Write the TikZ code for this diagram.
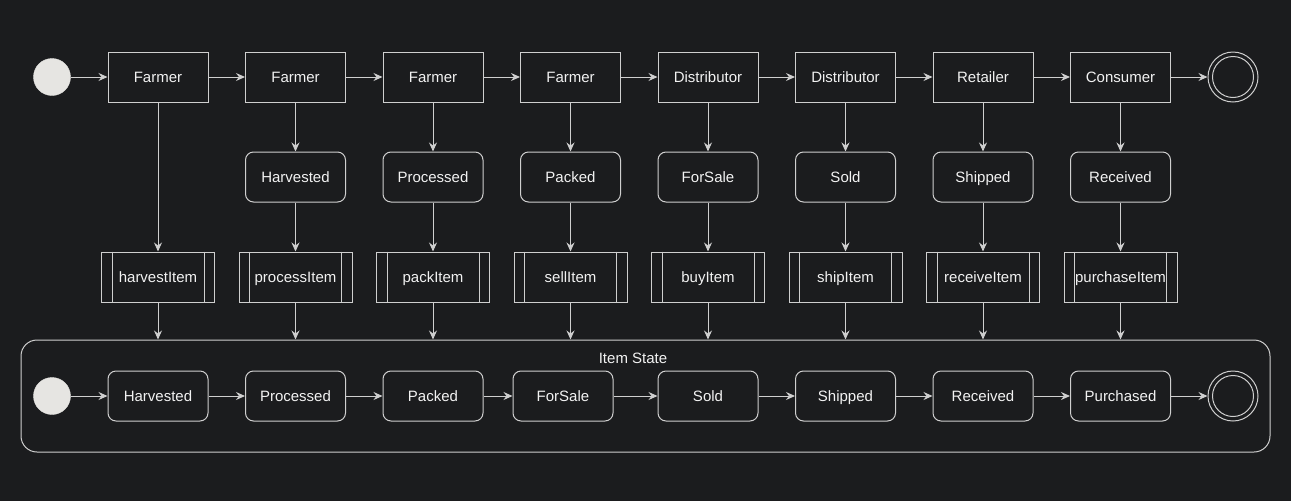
\documentclass[tikz,border=0pt]{standalone}
\usepackage{fontspec}
\setmainfont{Liberation Sans}
\usetikzlibrary{arrows.meta}
\definecolor{bg}{HTML}{1B1C1E}
\definecolor{ln}{HTML}{CFCFCF}
\definecolor{tx}{HTML}{F2F2F2}
\definecolor{dot}{HTML}{E6E5E2}
\tikzset{
  box/.style={draw=ln, line width=1pt, fill=bg, text=tx, minimum width=100pt, minimum height=50pt, inner sep=0pt, text height=12pt, text depth=2pt, font=\fontsize{15}{18}\selectfont},
  rbox/.style={box, rounded corners=8pt},
  pbox/.style={box, minimum width=113pt},
  startdot/.style={circle, fill=dot, draw=dot, minimum size=37pt, inner sep=0pt},
  enddot/.style={circle, draw=ln, line width=1pt, minimum size=50pt, inner sep=0pt},
  enddotin/.style={circle, draw=ln, line width=1pt, minimum size=41pt, inner sep=0pt},
  conn/.style={draw=ln, line width=1pt, -{Stealth[length=9pt,width=8pt,inset=3pt]}},
  plain/.style={draw=ln, line width=1pt},
  lbl/.style={text=tx, font=\fontsize{15}{18}\selectfont, inner sep=0pt, text height=12pt, text depth=2pt}
}
\begin{document}
\begin{tikzpicture}[x=1pt,y=-1pt]
\fill[bg] (0,0) rectangle (1291,501);
\useasboundingbox (0,0) rectangle (1291,501);
% container
\node (cont) [draw=ln, line width=1pt, rounded corners=16pt, minimum width=1249pt, minimum height=112pt, inner sep=0pt] at (645.5,396) {};
\node (ctitle) [lbl] at (633,358) {Item State};
% top row
\node (s0) [startdot] at (52,77) {};
\foreach \i/\t in {1/Farmer,2/Farmer,3/Farmer,4/Farmer,5/Distributor,6/Distributor,7/Retailer,8/Consumer}{
  \node (t\i) [box] at ({158+137.5*(\i-1)},77) {\t};
}
\node (e0) [enddot] at (1233,77) {};
\node (e0i) [enddotin] at (1233,77) {};
% middle row
\foreach \i/\t in {2/Harvested,3/Processed,4/Packed,5/ForSale,6/Sold,7/Shipped,8/Received}{
  \node (m\i) [rbox] at ({158+137.5*(\i-1)},177) {\t};
}
% process row
\foreach \i/\t in {1/harvestItem,2/processItem,3/packItem,4/sellItem,5/buyItem,6/shipItem,7/receiveItem,8/purchaseItem}{
  \node (p\i) [pbox] at ({158+137.5*(\i-1)},277) {\t};
  \draw[plain] ([xshift=11pt]p\i.north west) -- ([xshift=11pt]p\i.south west);
  \draw[plain] ([xshift=-11pt]p\i.north east) -- ([xshift=-11pt]p\i.south east);
  \draw[conn] (p\i.south) -- (p\i.south |- cont.north);
}
% bottom row
\node (s1) [startdot] at (52,396) {};
\foreach \i/\t/\x in {1/Harvested/158,2/Processed/295.5,3/Packed/433,4/ForSale/563,5/Sold/708,6/Shipped/845.5,7/Received/983,8/Purchased/1120.5}{
  \node (b\i) [rbox] at (\x,396) {\t};
}
\node (e1) [enddot] at (1233,396) {};
\node (e1i) [enddotin] at (1233,396) {};
% top connectors
\draw[conn] (s0) -- (t1);
\draw[conn] (t1) -- (t2);
\draw[conn] (t2) -- (t3);
\draw[conn] (t3) -- (t4);
\draw[conn] (t4) -- (t5);
\draw[conn] (t5) -- (t6);
\draw[conn] (t6) -- (t7);
\draw[conn] (t7) -- (t8);
\draw[conn] (t8) -- (e0);
% vertical
\draw[conn] (t1) -- (p1);
\foreach \i in {2,...,8}{
  \draw[conn] (t\i) -- (m\i);
  \draw[conn] (m\i) -- (p\i);
}
% bottom connectors
\draw[conn] (s1) -- (b1);
\draw[conn] (b1) -- (b2);
\draw[conn] (b2) -- (b3);
\draw[conn] (b3) -- (b4);
\draw[conn] (b4) -- (b5);
\draw[conn] (b5) -- (b6);
\draw[conn] (b6) -- (b7);
\draw[conn] (b7) -- (b8);
\draw[conn] (b8) -- (e1);
\end{tikzpicture}
\end{document}
